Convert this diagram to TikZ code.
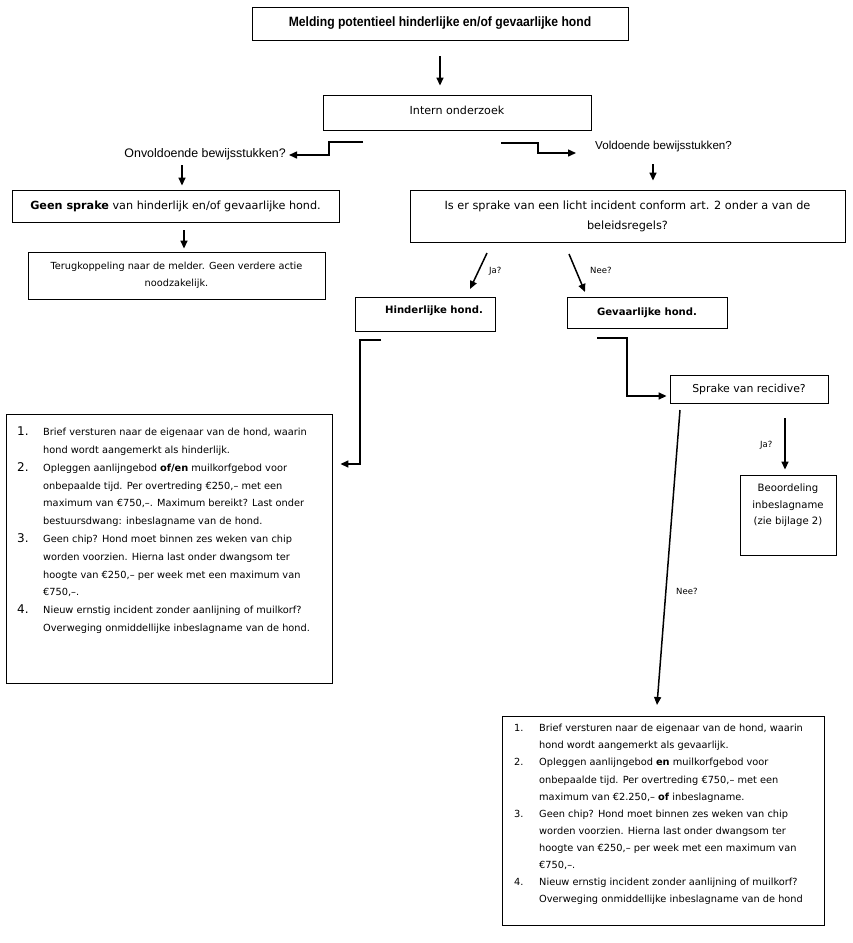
\documentclass[tikz,border=0pt]{standalone}
\usepackage{fontspec}
\setmainfont{DejaVu Sans}
\newfontfamily\lblfont{Liberation Sans}
\newfontfamily\titlefont[FakeStretch=0.9]{Liberation Sans}
\usetikzlibrary{arrows.meta}
\begin{document}
\begin{tikzpicture}[x=1pt,y=-1pt,
  box/.style={draw, line width=0.9pt, inner sep=0pt, align=center},
  arr/.style={line width=1.5pt, -{Triangle[length=8pt,width=7pt]}},
  tbig/.style={font=\fontsize{11.1}{20}\selectfont, inner sep=0pt},
  tmid/.style={font=\fontsize{9.75}{17}\selectfont, inner sep=0pt},
  tlst/.style={font=\fontsize{9.8}{12}\selectfont, inner sep=0pt, anchor=mid west},
  tnum/.style={font=\fontsize{12}{14}\selectfont, inner sep=0pt, anchor=mid west},
  tsmall/.style={font=\fontsize{8.5}{10}\selectfont, inner sep=0pt}]
\useasboundingbox (0,0) rectangle (853,943);

% boxes
\node[box, minimum width=376pt, minimum height=33pt] (b1) at (440,23.5)
  {\titlefont\bfseries\fontsize{13.5}{15}\selectfont Melding potentieel hinderlijke en/of gevaarlijke hond};
\node[box, minimum width=268pt, minimum height=35pt] (b2) at (457,112.5) {};
\node[tbig] (t2) at (457,110) {Intern onderzoek};
\node[box, minimum width=327pt, minimum height=32pt, font=\fontsize{11.2}{14}\selectfont] (b3) at (175.5,206)
  {\textbf{Geen sprake} van hinderlijk en/of gevaarlijke hond.};
\node[box, minimum width=297pt, minimum height=47pt, tmid, inner sep=0pt] (b4) at (176.5,275.5)
  {Terugkoppeling naar de melder. Geen verdere actie\\noodzakelijk.};
\node[box, minimum width=435pt, minimum height=52pt, font=\fontsize{11.3}{20}\selectfont] (b5) at (627.5,216)
  {Is er sprake van een licht incident conform art. 2 onder a van de\\beleidsregels?};
\node[box, minimum width=140pt, minimum height=34pt] (b6) at (425,314) {};
\node[font=\fontsize{10.1}{12}\selectfont, inner sep=0pt] (t6) at (434,311) {\textbf{Hinderlijke hond.}};
\node[box, minimum width=160pt, minimum height=31pt, font=\fontsize{10.1}{12}\selectfont] (b7) at (647,312.5)
  {\textbf{Gevaarlijke hond.}};
\node[box, minimum width=158pt, minimum height=28pt, font=\fontsize{10.9}{12}\selectfont] (b8) at (749,389)
  {Sprake van recidive?};
\node[box, minimum width=96pt, minimum height=80pt] (b9) at (788,515) {};
\node[align=center, inner sep=0pt, font=\fontsize{10.1}{16.5}\selectfont] (t9) at (788,505.5)
  {Beoordeling\\inbeslagname\\(zie bijlage 2)};
\node[box, minimum width=326pt, minimum height=269pt] (b10) at (169,548.5) {};
\node[box, minimum width=322pt, minimum height=209pt] (b11) at (663,820.5) {};

% labels
\node[font=\lblfont\fontsize{12.4}{14}\selectfont, inner sep=0pt, anchor=mid east] (L1) at (286,155) {Onvoldoende bewijsstukken?};
\node[font=\lblfont\fontsize{11.6}{14}\selectfont, inner sep=0pt, anchor=mid west] (L2) at (595,147) {Voldoende bewijsstukken?};
\node[tsmall, anchor=mid west] (ja1) at (489,271) {Ja?};
\node[tsmall, anchor=mid west] (nee1) at (590,271) {Nee?};
\node[tsmall, anchor=mid west] (ja2) at (760,445) {Ja?};
\node[tsmall, anchor=mid west] (nee2) at (676,592) {Nee?};

% left list
\node[tnum] (ln1) at (17,433) {1.};
\node[tnum] (ln2) at (17,468.6) {2.};
\node[tnum] (ln3) at (17,539.8) {3.};
\node[tnum] (ln4) at (17,611) {4.};
\foreach \t [count=\i from 0] in {
  {Brief versturen naar de eigenaar van de hond, waarin},
  {hond wordt aangemerkt als hinderlijk.},
  {Opleggen aanlijngebod \textbf{of/en} muilkorfgebod voor},
  {onbepaalde tijd. Per overtreding €250,– met een},
  {maximum van €750,–. Maximum bereikt? Last onder},
  {bestuursdwang: inbeslagname van de hond.},
  {Geen chip? Hond moet binnen zes weken van chip},
  {worden voorzien. Hierna last onder dwangsom ter},
  {hoogte van €250,– per week met een maximum van},
  {€750,–.},
  {Nieuw ernstig incident zonder aanlijning of muilkorf?},
  {Overweging onmiddellijke inbeslagname van de hond.}}
  \node[tlst] (ll\i) at (43,{433+17.8*\i}) {\t};

% right list
\node[tlst] (rn1) at (514,729) {1.};
\node[tlst] (rn2) at (514,763.2) {2.};
\node[tlst] (rn3) at (514,814.5) {3.};
\node[tlst] (rn4) at (514,882.9) {4.};
\foreach \t [count=\i from 0] in {
  {Brief versturen naar de eigenaar van de hond, waarin},
  {hond wordt aangemerkt als gevaarlijk.},
  {Opleggen aanlijngebod \textbf{en} muilkorfgebod voor},
  {onbepaalde tijd. Per overtreding €750,– met een},
  {maximum van €2.250,– \textbf{of} inbeslagname.},
  {Geen chip? Hond moet binnen zes weken van chip},
  {worden voorzien. Hierna last onder dwangsom ter},
  {hoogte van €250,– per week met een maximum van},
  {€750,–.},
  {Nieuw ernstig incident zonder aanlijning of muilkorf?},
  {Overweging onmiddellijke inbeslagname van de hond}}
  \node[tlst] (rl\i) at (539,{729+17.1*\i}) {\t};

% connectors
\draw[arr, shorten <=16pt, shorten >=9pt] (b1.south) -- (b1.south |- b2.north);
\coordinate (e1) at (363,142);
\draw[arr] (e1) -- ++(-34,0) |- ([xshift=3pt]L1.mid east);
\coordinate (e2) at (501,143);
\draw[arr] (e2) -- ++(37,0) -- ++(0,10) -- ++(38,0);
\coordinate (a4) at (182,165);
\draw[arr, shorten >=4pt] (a4) -- (a4 |- b3.north);
\coordinate (a5) at (653,164);
\draw[arr, shorten >=9pt] (a5) -- (a5 |- b5.north);
\coordinate (a6) at (184,230);
\draw[arr, shorten >=3pt] (a6) -- (a6 |- b4.north);
\coordinate (a7) at (487,253);
\coordinate (a7e) at (470,289);
\draw[arr] (a7) -- (a7e);
\coordinate (a8) at (569,254);
\coordinate (a8e) at (585,292);
\draw[arr] (a8) -- (a8e);
\coordinate (a9) at (381,340);
\draw[arr] (a9) -- ++(-21,0) -- ++(0,124) -- ([xshift=8pt]b10.east |- 0,464);
\coordinate (a10) at (597,338);
\draw[arr] (a10) -- ++(30,0) -- ++(0,58) -- ([xshift=-3pt]b8.west |- 0,396);
\coordinate (a11) at (785,418);
\draw[arr, shorten >=5pt] (a11) -- (a11 |- b9.north);
\coordinate (a12) at (680,410);
\coordinate (a12e) at (657,705);
\draw[arr] (a12) -- (a12e);
\end{tikzpicture}
\end{document}
